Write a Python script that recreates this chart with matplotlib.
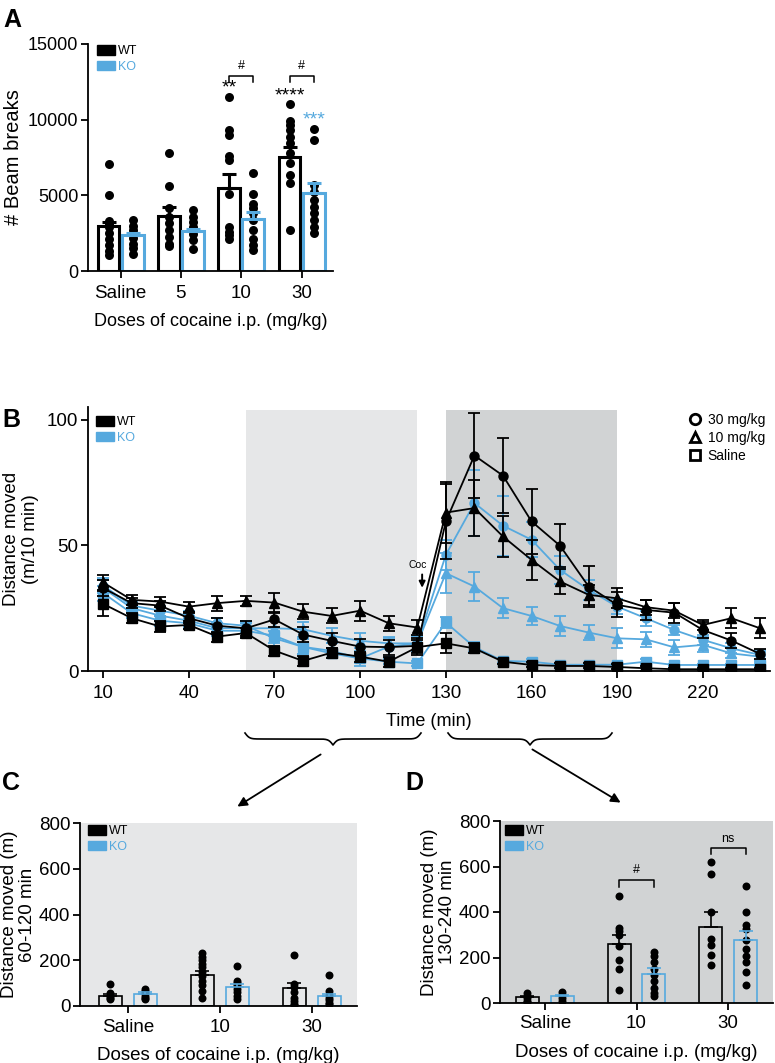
import numpy as np
import matplotlib
matplotlib.use('Agg')
import matplotlib.pyplot as plt
from matplotlib.patches import Patch
from matplotlib.lines import Line2D

plt.rcParams['font.family'] = ['Liberation Sans', 'DejaVu Sans']

BLUE = '#56a9de'
LIGHT = '#e6e7e8'
DARK = '#d1d3d4'

# ---- panel A: beam breaks
doses_a = ['Saline', '5', '10', '30']
a_wt_mean = [2960, 3650, 5500, 7550]
a_wt_sem = [290, 550, 900, 620]
a_ko_mean = [2410, 2630, 3420, 5170]
a_ko_sem = [110, 170, 450, 620]
a_wt_pts = [
    [7100, 5050, 3300, 3100, 2900, 2500, 2100, 1700, 1300, 1050],
    [7780, 5630, 4130, 3580, 3140, 2700, 2250, 1800, 1650],
    [11490, 9320, 9000, 7600, 7330, 5120, 2920, 2580, 2360, 2140],
    [11040, 9940, 9650, 9320, 8880, 8440, 7780, 7110, 6340, 5790, 2700],
]
a_ko_pts = [
    [3350, 3000, 2700, 2450, 2150, 1800, 1500, 1150],
    [4060, 3580, 3250, 2920, 2470, 2030, 1480],
    [6450, 5120, 4460, 4130, 3800, 3360, 2700, 2140, 1700, 1370],
    [9370, 8660, 5680, 5240, 4680, 4240, 3800, 3360, 2920, 2520],
]

# ---- panel B: time course (m / 10 min)
time = [10, 20, 30, 40, 50, 60, 70, 80, 90, 100, 110, 120,
        130, 140, 150, 160, 170, 180, 190, 200, 210, 220, 230, 240]
wt30 = [33, 27, 26, 21, 18, 17, 20.5, 14.5, 12, 9.7, 9.5, 10,
        59.5, 85.7, 77.7, 59.5, 49.8, 33.6, 26.3, 24.3, 23.2, 16.3, 12.1, 6.8]
wt30_e = [3, 2, 2, 2, 3, 3, 3, 3, 3, 3, 3, 3,
          15, 17, 15, 13, 8.5, 8, 5, 4, 4, 3, 3, 2]
wt10 = [35.2, 28.3, 27.6, 25.6, 27, 27.9, 27.2, 23.6, 21.9, 24, 19, 17.3,
        63, 64.8, 53.5, 44.2, 35.6, 30.3, 28.9, 25.4, 24, 18.3, 21, 17]
wt10_e = [3, 2, 2, 2, 3, 2, 4, 3, 3, 4, 3, 3,
          12, 11, 8, 8, 5, 4, 4, 3, 3, 2, 4, 4]
wtsal = [26.7, 21, 17.7, 18.3, 13.7, 15.1, 8.1, 4, 7.3, 5.7, 3.7, 9.5,
         11, 9, 3.7, 2.4, 2, 2, 1.6, 1.1, 0.7, 0.7, 0.7, 0.7]
wtsal_e = [5, 2, 2, 1.5, 2, 2, 2, 2, 2, 2, 2, 3,
           4, 2, 1, 1, 1, 1, 1, 1, 0.5, 0.5, 0.5, 0.5]
ko30 = [34, 26, 24, 22, 19, 18, 13, 9.6, 8, 5, 9.7, 11,
        46.2, 66.8, 57.8, 52.2, 40.2, 32.3, 25.6, 21, 16.3, 12.4, 9, 6.4]
ko30_e = [3, 2, 2, 2, 2, 2, 3, 3, 3, 3, 4, 3,
          6, 13, 12, 7, 5.6, 4, 3, 3, 2, 2, 2, 2]
ko10 = [33, 25, 22, 20, 17, 17, 17, 16.6, 14, 12, 11, 11,
        38.9, 33.6, 25, 21.9, 17.9, 15.3, 13, 12.6, 9.4, 10.4, 7, 5.7]
ko10_e = [3, 2, 2, 2, 2, 2, 3, 3, 3, 3, 2, 3,
          8, 5.6, 4, 3.5, 4, 3, 4, 3, 3, 3, 2, 2]
kosal = [31, 23, 20, 19, 16, 16, 14, 9.6, 7, 5, 3.7, 3,
         19.3, 9.5, 4, 3.7, 2.5, 2.5, 2.5, 3.7, 2.4, 2.4, 2.4, 2.4]
kosal_e = [3, 2, 2, 2, 2, 3, 3, 3, 2, 2, 1, 1,
           2, 2, 1, 1, 0.5, 0.5, 0.5, 1, 0.5, 0.5, 0.5, 0.5]

# ---- panels C / D
doses_cd = ['Saline', '10', '30']
c_wt_mean = [42, 134, 77]
c_wt_sem = [12, 21, 23]
c_ko_mean = [54, 83, 42]
c_ko_sem = [7, 15, 9]
c_wt_pts = [[95, 55, 45, 35, 30],
            [230, 215, 200, 185, 170, 150, 130, 110, 90, 65, 35],
            [225, 98, 85, 60, 35, 20, 10, 5]]
c_ko_pts = [[75, 65, 55, 45, 35, 30],
            [174, 110, 100, 90, 75, 60, 45, 30],
            [135, 65, 50, 35, 25, 15, 8]]
d_wt_mean = [25, 260, 335]
d_wt_sem = [7, 41, 63]
d_ko_mean = [29, 129, 276]
d_ko_sem = [8, 23, 41]
d_wt_pts = [[45, 30, 20, 10, 5],
            [472, 330, 315, 300, 250, 190, 150, 58],
            [618, 567, 399, 282, 253, 212, 168]]
d_ko_pts = [[50, 35, 20, 10],
            [225, 205, 180, 150, 125, 95, 65, 45, 30],
            [516, 399, 344, 325, 278, 238, 205, 180, 136, 77]]

W, H = 775, 1063


def box(l, t, r, b):
    return [l / W, 1 - b / H, (r - l) / W, (b - t) / H]


def style(ax, fs=13.5):
    for s in ['top', 'right']:
        ax.spines[s].set_visible(False)
    for s in ['left', 'bottom']:
        ax.spines[s].set_linewidth(1.3)
    ax.tick_params(width=1.3, length=5, labelsize=fs, pad=2)


def bars(ax, wt_m, wt_e, ko_m, ko_e, wt_p, ko_p, off, width, lw, s):
    x = np.arange(len(wt_m))
    ax.bar(x - off, wt_m, width, facecolor='none', edgecolor='k', linewidth=lw, zorder=2)
    ax.bar(x + off, ko_m, width, facecolor='none', edgecolor=BLUE, linewidth=lw, zorder=2)
    for i in x:
        ax.scatter(np.full(len(wt_p[i]), i - off), wt_p[i], s=s, color='k', lw=0, zorder=3)
        ax.scatter(np.full(len(ko_p[i]), i + off), ko_p[i], s=s, color='k', lw=0, zorder=3)
    z = np.zeros(len(x))
    ax.errorbar(x - off, wt_m, yerr=[z, wt_e], fmt='none', ecolor='k',
                elinewidth=lw, capthick=lw, capsize=5, zorder=4)
    ax.errorbar(x + off, ko_m, yerr=[z, ko_e], fmt='none', ecolor=BLUE,
                elinewidth=lw, capthick=lw, capsize=5, zorder=4)
    return x


def bracket(ax, x1, x2, y, h, txt, fs=9):
    ax.plot([x1, x1, x2, x2], [y - h, y, y, y - h], color='k', lw=1.1, zorder=5)
    ax.text((x1 + x2) / 2, y + h * 0.6, txt, ha='center', va='bottom', fontsize=fs)


def wtko_legend(ax, anchor):
    hs = [Patch(facecolor='k', edgecolor='k'), Patch(facecolor=BLUE, edgecolor=BLUE)]
    lg = ax.legend(hs, ['WT', 'KO'], loc='upper left', bbox_to_anchor=anchor,
                   frameon=False, fontsize=9, handlelength=1.4, handleheight=0.8,
                   handletextpad=0.3, labelspacing=0.3, borderpad=0, borderaxespad=0,
                   labelcolor=['k', BLUE])
    return lg


fig = plt.figure(figsize=(W / 100, H / 100), dpi=100)

# ---------------- A
axA = fig.add_axes(box(88, 44, 333, 271))
style(axA, fs=13)
off = 0.2
x = bars(axA, a_wt_mean, a_wt_sem, a_ko_mean, a_ko_sem, a_wt_pts, a_ko_pts,
         off, 0.36, 2.2, 42)
axA.set_xlim(-0.54, 3.52)
axA.set_ylim(0, 15000)
axA.set_yticks([0, 5000, 10000, 15000])
axA.set_xticks(x)
axA.set_xticklabels(doses_a, fontsize=13.5)
axA.tick_params(axis='x', pad=5)
axA.set_ylabel('# Beam breaks', fontsize=14.5)
axA.yaxis.set_label_coords(-0.265, 0.5)
axA.set_xlabel('Doses of cocaine i.p. (mg/kg)', fontsize=13, labelpad=8)
axA.text(2 - off, 12100, '**', ha='center', va='center', fontsize=14)
axA.text(3 - off, 11550, '****', ha='center', va='center', fontsize=14)
axA.text(3 + off, 10000, '***', ha='center', va='center', fontsize=14, color=BLUE)
bracket(axA, 2 - off, 2 + off, 12900, 380, '#')
bracket(axA, 3 - off, 3 + off, 12900, 380, '#')
wtko_legend(axA, (9 / 245, 1 - 1 / 227))

# ---------------- B
axB = fig.add_axes(box(88, 407, 770, 671))
style(axB)
axB.set_xlim(4.7, 243.5)
axB.set_ylim(0, 105)
axB.axvspan(60, 120, ymax=104 / 105, color=LIGHT, lw=0, zorder=0)
axB.axvspan(130, 190, ymax=104 / 105, color=DARK, lw=0, zorder=0)
series = [
    (kosal, kosal_e, 's', BLUE), (ko10, ko10_e, '^', BLUE), (ko30, ko30_e, 'o', BLUE),
    (wtsal, wtsal_e, 's', 'k'), (wt10, wt10_e, '^', 'k'), (wt30, wt30_e, 'o', 'k'),
]
for k, (m, e, mk, c) in enumerate(series):
    axB.errorbar(time, m, yerr=e, marker=mk, color=c, ms=6.5, lw=1.3,
                 elinewidth=1.3, capsize=4.5, capthick=1.3, zorder=2 + k)
axB.set_xticks([10, 40, 70, 100, 130, 160, 190, 220])
axB.set_yticks([0, 50, 100])
axB.tick_params(axis='x', pad=5)
axB.set_xlabel('Time (min)', fontsize=13, labelpad=8)
axB.set_ylabel('Distance moved\n(m/10 min)', fontsize=13.5, labelpad=6, linespacing=1.1)
axB.text(120, 40, 'Coc', ha='center', va='bottom', fontsize=7.5)
axB.annotate('', xy=(121.7, 32), xytext=(121.7, 39.5),
             arrowprops=dict(arrowstyle='-|>', color='k', lw=1.4, mutation_scale=9))
lg1 = wtko_legend(axB, (8 / 682, 1 - 9 / 264))
axB.add_artist(lg1)
dose_h = [Line2D([], [], marker=mk, ls='none', mfc='white', mec='k', mew=2, ms=7.5, color='k')
          for mk in ['o', '^', 's']]
axB.legend(dose_h, ['30 mg/kg', '10 mg/kg', 'Saline'], loc='upper right',
           bbox_to_anchor=(1 - 5 / 682, 1 - 6 / 264), frameon=False, fontsize=10,
           handlelength=0.8, handletextpad=0.5, labelspacing=0.3,
           borderpad=0, borderaxespad=0)

# ---------------- C
axC = fig.add_axes(box(80, 823, 357, 1006))
style(axC)
axC.set_facecolor(LIGHT)
offc = 0.19
x = bars(axC, c_wt_mean, c_wt_sem, c_ko_mean, c_ko_sem, c_wt_pts, c_ko_pts,
         offc, 0.25, 1.2, 33)
axC.set_xlim(-0.52, 2.49)
axC.set_ylim(0, 800)
axC.set_yticks([0, 200, 400, 600, 800])
axC.set_xticks(x)
axC.set_xticklabels(doses_cd)
axC.tick_params(axis='x', pad=4)
axC.set_ylabel('Distance moved (m)\n60-120 min', fontsize=13.5, labelpad=2, linespacing=1.05)
axC.set_xlabel('Doses of cocaine i.p. (mg/kg)', fontsize=13.5, labelpad=8)
wtko_legend(axC, (8 / 277, 1 - 2 / 183))

# ---------------- D
axD = fig.add_axes(box(500, 821, 773, 1003))
style(axD)
axD.set_facecolor(DARK)
x = bars(axD, d_wt_mean, d_wt_sem, d_ko_mean, d_ko_sem, d_wt_pts, d_ko_pts,
         offc, 0.25, 1.2, 33)
axD.set_xlim(-0.49, 2.49)
axD.set_ylim(0, 800)
axD.set_yticks([0, 200, 400, 600, 800])
axD.set_xticks(x)
axD.set_xticklabels(doses_cd)
axD.tick_params(axis='x', pad=4)
axD.set_ylabel('Distance moved (m)\n130-240 min', fontsize=13.5, labelpad=2, linespacing=1.05)
axD.set_xlabel('Doses of cocaine i.p. (mg/kg)', fontsize=13.5, labelpad=8)
bracket(axD, 1 - offc, 1 + offc, 541, 29, '#')
bracket(axD, 2 - offc, 2 + offc, 680, 27, 'ns')
wtko_legend(axD, (5 / 273, 1 - 4 / 182))

# ---------------- overlay: braces, arrows, panel letters
ov = fig.add_axes([0, 0, 1, 1], zorder=-1)
ov.set_xlim(0, W)
ov.set_ylim(H, 0)
ov.axis('off')


def brace(x0, x1, y, h, beta=0.45):
    xs = np.linspace(x0, x1, 401)
    half = xs[:201]
    yb = 1 / (1 + np.exp(-beta * (half - half[0]))) + 1 / (1 + np.exp(-beta * (half - half[-1])))
    ys = np.concatenate((yb, yb[-2::-1]))
    ov.plot(xs, y + (ys - 0.5) * h, color='k', lw=1.2)


brace(245, 421, 733, 12)
brace(448, 612, 733, 12)
ov.annotate('', xy=(235, 808), xytext=(323, 753),
            arrowprops=dict(arrowstyle='-|>', color='k', lw=1.3, mutation_scale=14))
ov.annotate('', xy=(623, 804), xytext=(530, 748),
            arrowprops=dict(arrowstyle='-|>', color='k', lw=1.3, mutation_scale=14))

for txt, px, py in [('A', 3, 8), ('B', 2, 408), ('C', 2, 771), ('D', 405, 771)]:
    fig.text(px / W, 1 - py / H, txt, fontsize=18, fontweight='bold', va='top', ha='left')

fig.savefig('out.png', dpi=100)
